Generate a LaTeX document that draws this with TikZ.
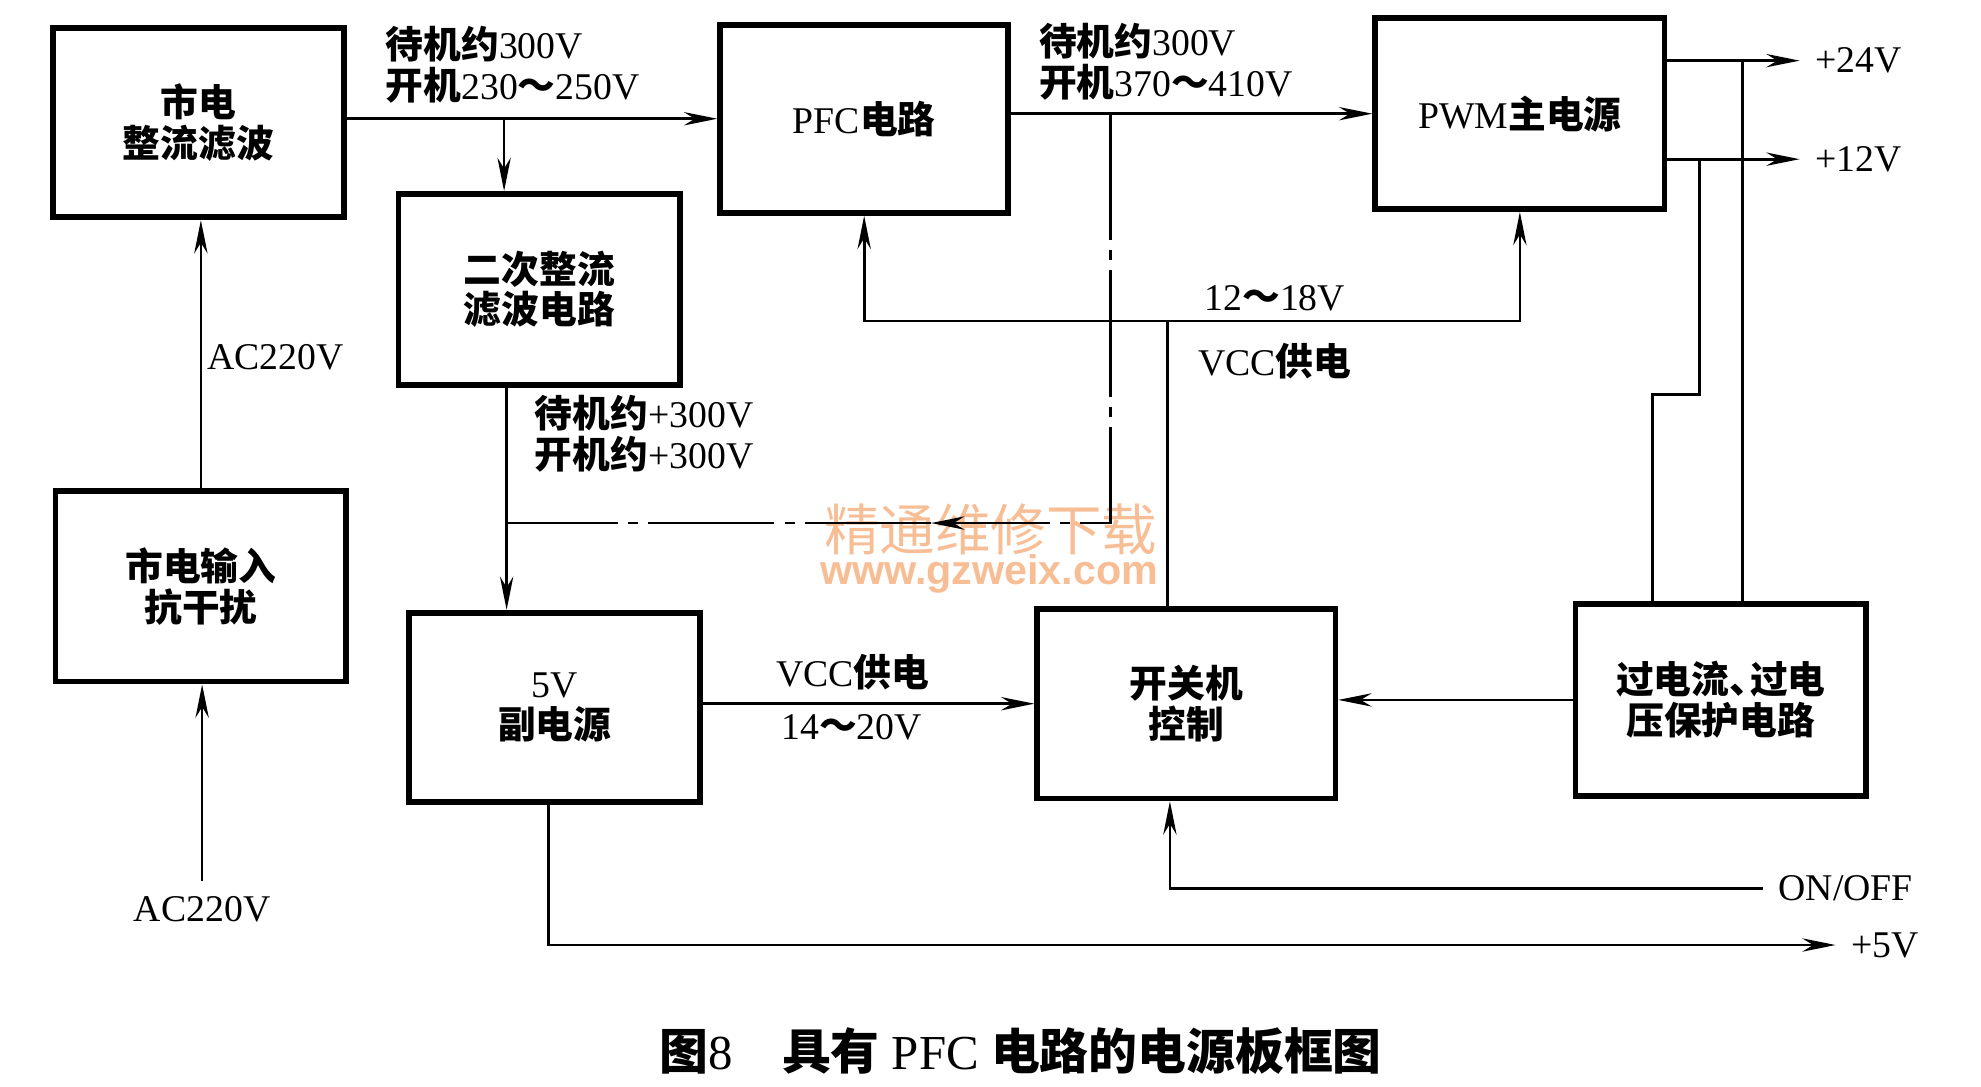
\documentclass[tikz,border=0pt]{standalone}
\usepackage{fontspec}
\setmainfont{Liberation Serif}
\newfontfamily\cjk{Noto Sans CJK SC}
\newfontfamily\urlfont{Liberation Sans}
\usetikzlibrary{arrows.meta}
\usetikzlibrary{positioning}
\definecolor{wmorange}{RGB}{247,190,150}
\newcommand{\zh}[1]{{\cjk\bfseries #1}}

\tikzset{
  blk/.style={draw, line width=1.3pt, minimum width=2.3cm, minimum height=1.5cm, inner sep=0pt, align=center},
  wire/.style={line width=0.6pt},
  ctrline/.style={line width=0.6pt, dash pattern=on 1.0cm off 0.08cm on 0.08cm off 0.08cm},
  wmark/.style={text=wmorange, inner sep=0pt},
}

\begin{document}
\begin{tikzpicture}[>={Stealth[length=7.5pt,width=3pt]}, font=\fontsize{8.5}{9.2}\selectfont]
  \useasboundingbox (0,0) rectangle (15.68,8.60);

  % 水印
  \node[wmark, font=\cjk\fontsize{12.5}{13}\selectfont] (wm) at (7.84, 4.41) {精通维修下载};
  \node[wmark, font=\urlfont\bfseries\fontsize{9.3}{10}\selectfont] (wmurl) at (7.83, 4.06) {www.gzweix.com};

  % 方框
  \node[blk] (mains) at (1.57, 7.63) {\zh{市电}\\\zh{整流滤波}};
  \node[blk, minimum height=1.51cm] (filter) at (1.59, 3.96) {\zh{市电输入}\\\zh{抗干扰}};
  \node[blk, minimum width=2.23cm, minimum height=1.51cm] (rect2) at (4.27, 6.31) {\zh{二次整流}\\\zh{滤波电路}};
  \node[blk, minimum width=2.28cm, minimum height=1.49cm] (pfc) at (6.84, 7.66) {PFC\zh{电路}};
  \node[blk, minimum width=2.29cm, minimum height=1.51cm] (pwm) at (12.03, 7.70) {PWM\zh{主电源}};
  \node[blk] (aux) at (4.39, 3.00) {5V\\\zh{副电源}};
  \node[blk, minimum width=2.36cm] (onoff) at (9.39, 3.03) {\zh{开关机}\\\zh{控制}};
  \node[blk, minimum height=1.52cm] (protect) at (13.62, 3.06) {\zh{过电流、\kern-0.45em过电}\\\zh{压保护电路}};

  % 电压标注
  \node (acin) at (1.60, 1.40) {AC220V};
  \node (acmid) at (2.18, 5.77) {AC220V};
  \node[anchor=west, align=left] (lblin) at (2.93, 8.09) {\zh{待机约}300V\\\zh{开机}230\zh{～}250V};
  \node[anchor=west, align=left] (lblsec) at (4.11, 5.17) {\zh{待机约}+300V\\\zh{开机约}+300V};
  \node[anchor=west, align=left] (lblpfc) at (8.10, 8.11) {\zh{待机约}300V\\\zh{开机}370\zh{～}410V};
  \node (lblvh) at (10.09, 6.24) {12\zh{～}18V};
  \node (lblvl) at (10.09, 5.74) {VCC\zh{供电}};
  \node (lblva) at (6.75, 3.28) {VCC\zh{供电}};
  \node (lblvb) at (6.74, 2.84) {14\zh{～}20V};
  \node (p24) at (14.71, 8.12) {+24V};
  \node (p12) at (14.71, 7.34) {+12V};
  \node (p5) at (14.92, 1.12) {+5V};
  \node (onofflbl) at (14.61, 1.57) {ON/OFF};

  % 图题
  \node[font=\fontsize{11}{13}\selectfont] (cap) at (8.08, 0.28) {\zh{图}8\quad\zh{具有} PFC \zh{电路的电源板框图}};

  % 交流输入
  \draw[wire, ->] (acin.north) -- (acin.north |- filter.south);
  \draw[wire, ->] (filter.north) -- (filter.north |- mains.south);

  % 整流输出
  \draw[wire, ->] (pfc.west -| mains.east) -- (pfc.west);
  \coordinate (br1) at (3.99,0 |- pfc.west);
  \draw[wire, ->] (br1) -- (br1 |- rect2.north);
  \coordinate (br2) at (4.01,0 |- rect2.south);
  \draw[wire, ->] (br2) -- (br2 |- aux.north);

  % PFC 到 PWM
  \draw[wire, ->] (pwm.west -| pfc.east) -- (pwm.west);

  % 点划线回路
  \coordinate (tap) at (8.79,0 |- pwm.west);
  \coordinate (ret) at (8.79, 4.46);
  \coordinate (retm) at (7.37, 4.46);
  \draw[ctrline, ->] (tap) -- (ret) -- (retm);
  \draw[ctrline] (retm) -- (br2 |- ret);

  % VCC 供电
  \coordinate (vbus) at (9.24, 6.06);
  \draw[wire] (vbus |- onoff.north) -- (vbus);
  \draw[wire, ->] (vbus) -| (pfc.south);
  \draw[wire, ->] (vbus) -| (pwm.south);
  \draw[wire, ->] (onoff.west -| aux.east) -- (onoff.west);
  \draw[wire, ->] (protect.west) -- (protect.west -| onoff.east);

  % 开关机与 +5V
  \coordinate (onin) at (9.26,0 |- onoff.south);
  \draw[wire, ->] (onofflbl.west) -| (onin);
  \coordinate (auxout) at (4.34,0 |- aux.south);
  \draw[wire, ->] (auxout) |- (p5.west);

  % 输出与保护取样
  \draw[wire, ->] (p24.west -| pwm.east) -- (p24.west);
  \draw[wire, ->] (p12.west -| pwm.east) -- (p12.west);
  \coordinate (fb24) at (13.79,0 |- p24.west);
  \draw[wire] (fb24) -- (fb24 |- protect.north);
  \coordinate (fb12) at (13.45,0 |- p12.west);
  \coordinate (fbk) at (13.08, 5.48);
  \draw[wire] (fb12) |- (fbk) -- (fbk |- protect.north);
\end{tikzpicture}
\end{document}
